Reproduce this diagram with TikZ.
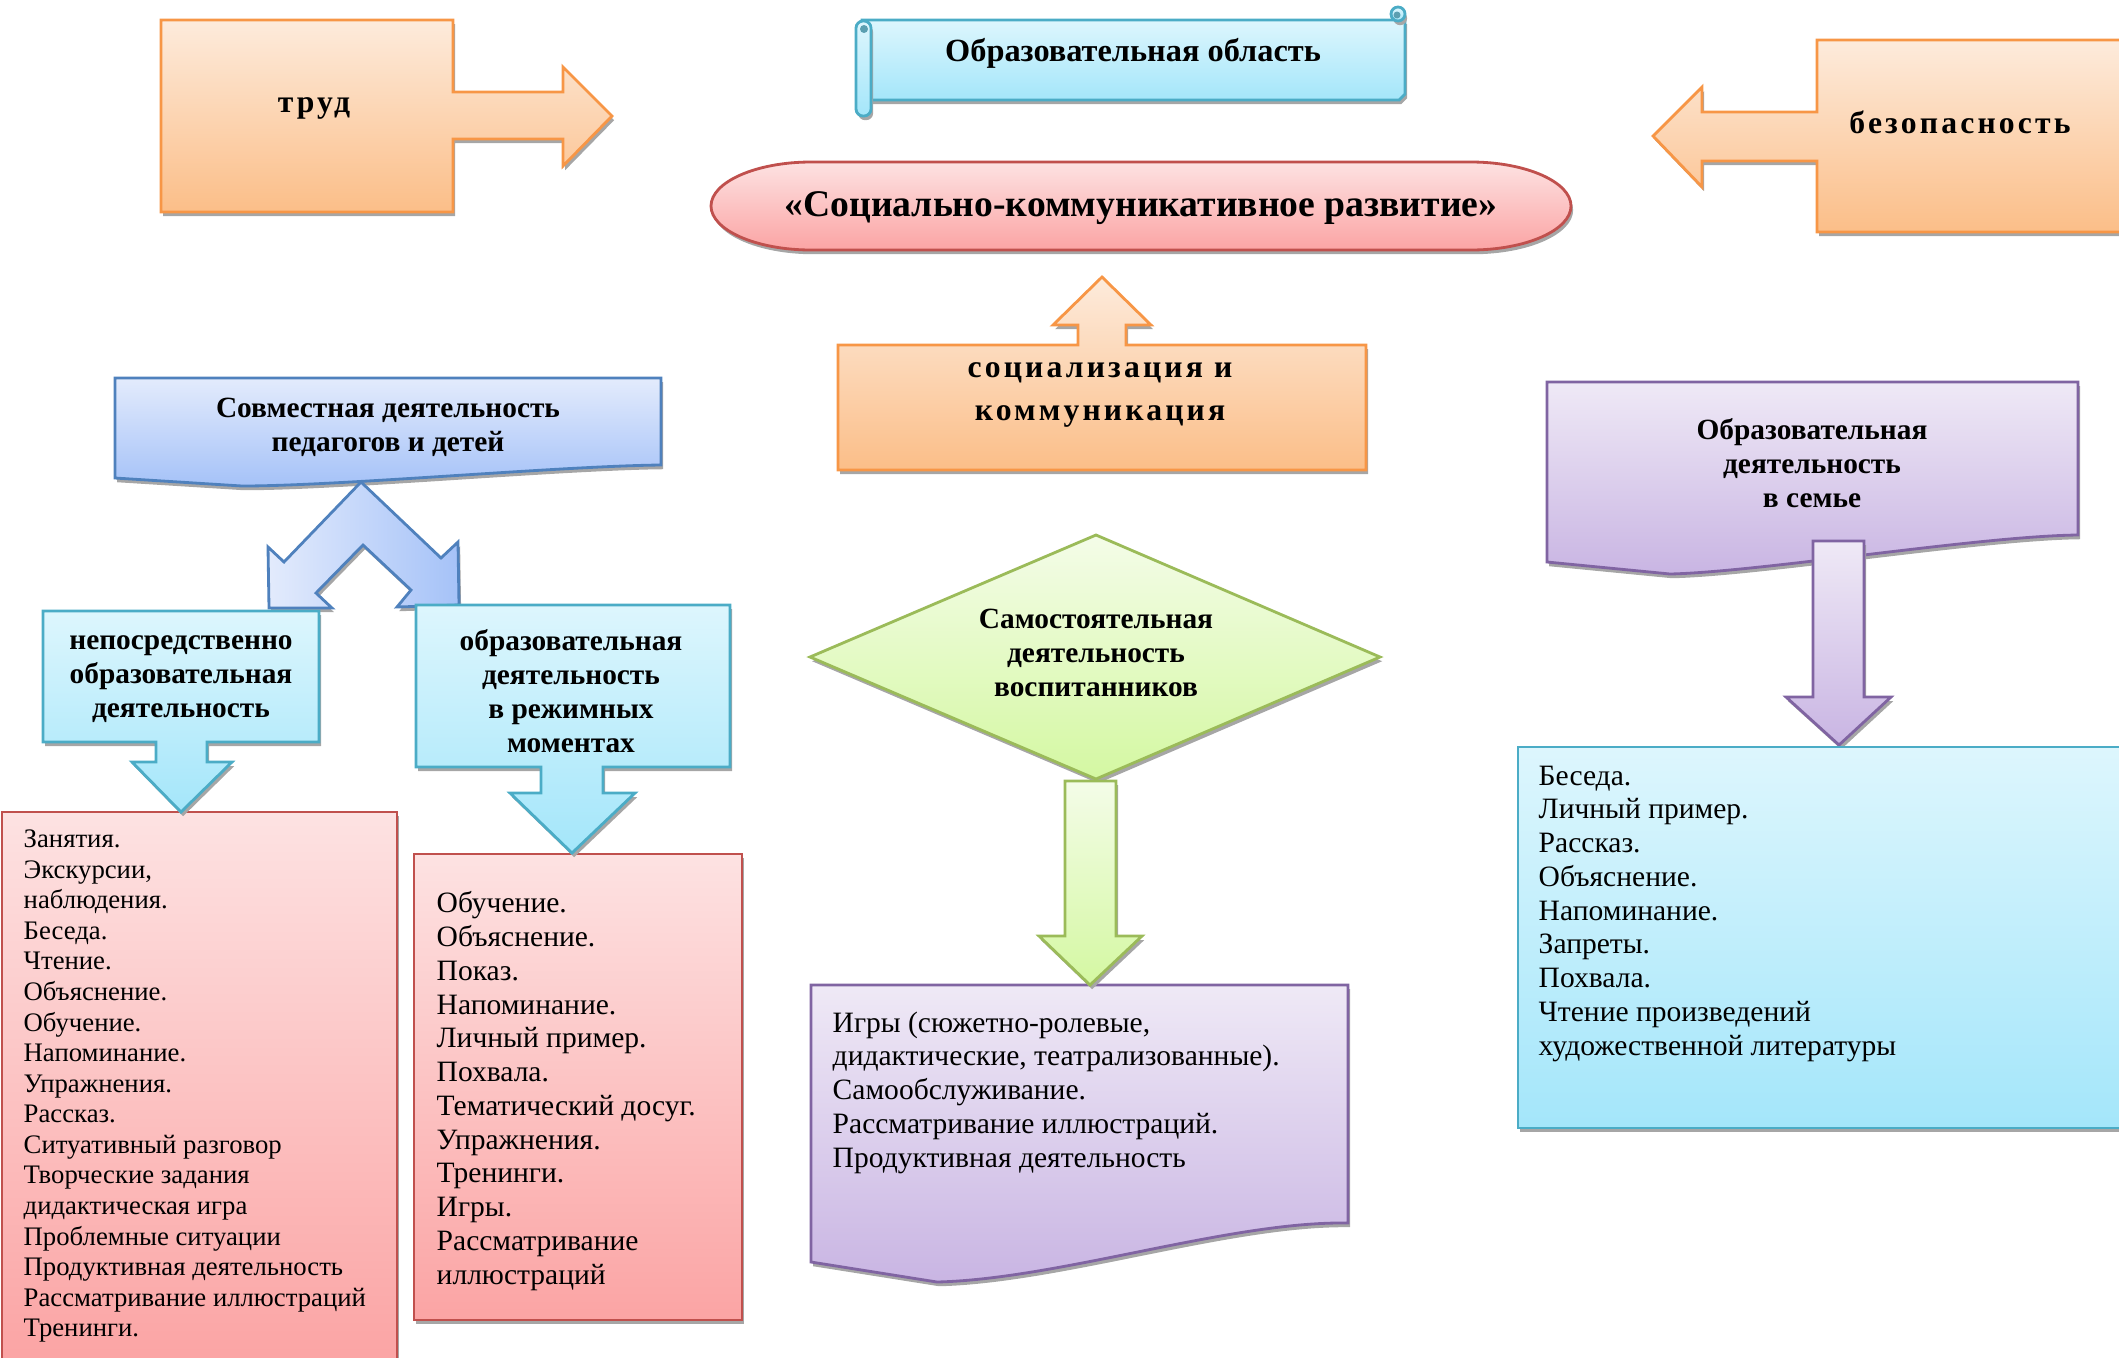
\documentclass[tikz,border=0pt]{standalone}
\usepackage{fontspec}
\setmainfont{Liberation Serif}
\usepackage{tikz}
\usetikzlibrary{shadows}
\definecolor{orline}{HTML}{F79646}
\definecolor{ortop}{HTML}{FDEBDC}
\definecolor{orbot}{HTML}{FBBE88}
\definecolor{cyline}{HTML}{4BACC6}
\definecolor{cytop}{HTML}{DDF6FD}
\definecolor{cybot}{HTML}{A4E6FA}
\definecolor{pkline}{HTML}{C0504D}
\definecolor{pktop}{HTML}{FDE2E2}
\definecolor{pkbot}{HTML}{FBA4A4}
\definecolor{liline}{HTML}{8064A2}
\definecolor{litop}{HTML}{EFE9F6}
\definecolor{libot}{HTML}{C9B5E3}
\definecolor{grline}{HTML}{9BBB59}
\definecolor{grtop}{HTML}{F4FCE8}
\definecolor{grbot}{HTML}{D4F8A2}
\definecolor{blline}{HTML}{4F81BD}
\definecolor{bltop}{HTML}{E3EBFC}
\definecolor{blbot}{HTML}{A5C2F8}

\begin{document}
\begin{tikzpicture}[x=0.01cm, y=-0.01cm,
  blkbase/.style={line width=0.8pt, line join=miter,
    drop shadow={shadow xshift=0.6pt, shadow yshift=-1.2pt, fill=black!35, opacity=1}},
  orangeblk/.style={blkbase, draw=orline, top color=ortop, bottom color=orbot},
  cyanblk/.style={blkbase, draw=cyline, top color=cytop, bottom color=cybot},
  pinkblk/.style={blkbase, draw=pkline, top color=pktop, bottom color=pkbot},
  lilacblk/.style={blkbase, draw=liline, top color=litop, bottom color=libot},
  greenblk/.style={blkbase, draw=grline, top color=grtop, bottom color=grbot},
  blueblk/.style={blkbase, draw=blline, top color=bltop, bottom color=blbot},
  heading/.style={font=\bfseries\fontsize{8.35}{9.7}\selectfont, align=center, inner sep=0pt},
  spaced/.style={font=\bfseries\fontsize{9}{12.2}\selectfont\addfontfeature{LetterSpace=10}, align=center, inner sep=0pt},
  items/.style={font=\fontsize{8.4}{9.6}\selectfont, align=left, anchor=north west, inner sep=0pt}]

  \useasboundingbox (0,0) rectangle (2119,1357);

  % top row
  \path[orangeblk] (161,20) -- (453,20) -- (453,92) -- (563,92) -- (563,67) -- (612,116)
    -- (563,166) -- (563,139) -- (453,139) -- (453,212) -- (161,212) -- cycle;
  \node[spaced] (trud) at (314,108) {труд};

  \path[orangeblk] (2124,40) -- (1817,40) -- (1817,112) -- (1702,112) -- (1702,87) -- (1653,136)
    -- (1702,187) -- (1702,161) -- (1817,161) -- (1817,232) -- (2124,232) -- cycle;
  \node[spaced] (bezop) at (1960,122) {безопасность};

  \path[cyanblk] (862,20) -- (1405,20) -- (1405,94) -- (1399,100) -- (862,100) -- cycle;
  \path[cyanblk] (1398,14) circle (7);
  \fill[cyline!70!gray] (1397,15) circle (3.5);
  \path[cyanblk, rounded corners=2pt] (856,21) rectangle (871,116);
  \fill[cyline!70!gray] (864,29) circle (4);
  \node[heading, font=\bfseries\fontsize{9.2}{10}\selectfont] (oblast) at (1133,53) {Образовательная область};

  \path[pinkblk] (811,162) -- (1471,162) .. controls (1526,162) and (1571,182) .. (1571,206)
    .. controls (1571,230) and (1526,250) .. (1471,250) -- (811,250)
    .. controls (756,250) and (711,230) .. (711,206) .. controls (711,182) and (756,162) .. (811,162) -- cycle;
  \node[heading, font=\bfseries\fontsize{10.7}{12}\selectfont] (razvitie) at (1141,208)
    {«Социально-коммуникативное развитие»};

  \path[orangeblk] (838,345) -- (1078,345) -- (1078,325) -- (1053,325) -- (1102,277) -- (1151,325)
    -- (1126,325) -- (1126,345) -- (1366,345) -- (1366,470) -- (838,470) -- cycle;
  \node[spaced] (socium) at (1100,395) {социализация и\\коммуникация};

  % left branch
  \path[blueblk] (115,378) -- (661,378) -- (661,465) .. controls (560,466) and (340,486) .. (242,486)
    -- (115,478) -- cycle;
  \node[heading] (sovm) at (388,427) {Совместная деятельность\\педагогов  и детей};
  \path[blkbase, draw=blline, left color=bltop, right color=blbot]
    (361,482) -- (441,558) -- (458,542) -- (459,605) -- (397,607) -- (411,590) -- (363,545)
    -- (316,593) -- (332,608) -- (269,608) -- (268,547) -- (284,562) -- cycle;

  \path[pinkblk] (2,812) rectangle (397,1362);
  \path[pinkblk] (414,854) rectangle (742,1320);

  \path[cyanblk] (43,611) -- (319,611) -- (319,742) -- (207,742) -- (207,762) -- (232,762) -- (181,812)
    -- (132,762) -- (156,762) -- (156,742) -- (43,742) -- cycle;
  \node[heading] (nod) at (181,679) {непосредственно\\образовательная\\деятельность};

  \path[cyanblk] (416,605) -- (730,605) -- (730,767) -- (603,767) -- (603,793) -- (635,793) -- (572,853)
    -- (510,793) -- (541,793) -- (541,767) -- (416,767) -- cycle;
  \node[heading] (rezhim) at (571,691) {образовательная\\деятельность\\в режимных\\моментах};

  \node[items, font=\fontsize{7.6}{8.7}\selectfont] (nodlist) at (23,829) {Занятия.\\Экскурсии,\\наблюдения.\\Беседа.\\Чтение.\\Объяснение.\\Обучение.\\Напоминание.\\Упражнения.\\Рассказ.\\Ситуативный разговор\\Творческие задания\\дидактическая игра\\Проблемные ситуации\\Продуктивная деятельность\\Рассматривание иллюстраций\\Тренинги.};
  \node[items] (rezhimlist) at (436,891) {Обучение.\\Объяснение.\\Показ.\\Напоминание.\\Личный пример.\\Похвала.\\Тематический досуг.\\Упражнения.\\Тренинги.\\Игры.\\Рассматривание\\иллюстраций};

  % middle branch
  \path[greenblk] (810,657) -- (1096,535) -- (1380,657) -- (1096,779) -- cycle;
  \node[heading] (samost) at (1096,653) {Самостоятельная\\деятельность\\воспитанников};
  \path[lilacblk] (811,985) -- (1348,985) -- (1348,1223) .. controls (1230,1221) and (1060,1279) .. (937,1282)
    -- (811,1262) -- cycle;
  \path[greenblk] (1065,781) -- (1116,781) -- (1116,936) -- (1142,936) -- (1090,985) -- (1039,936)
    -- (1065,936) -- cycle;
  \node[items] (samostlist) at (832,1011) {Игры (сюжетно-ролевые,\\дидактические, театрализованные).\\Самообслуживание.\\Рассматривание иллюстраций.\\Продуктивная деятельность};

  % right branch
  \path[lilacblk] (1547,382) -- (2078,382) -- (2078,535) .. controls (1980,536) and (1760,572) .. (1670,574)
    -- (1547,562) -- cycle;
  \node[heading] (semya) at (1812,463) {Образовательная\\деятельность\\в семье};
  \path[lilacblk] (1813,541) -- (1864,541) -- (1864,697) -- (1891,697) -- (1839,745) -- (1786,697)
    -- (1813,697) -- cycle;
  \path[cyanblk] (1518,747) rectangle (2124,1128);
  \node[items] (semyalist) at (1538,765) {Беседа.\\Личный пример.\\Рассказ.\\Объяснение.\\Напоминание.\\Запреты.\\Похвала.\\Чтение произведений\\художественной литературы};

\end{tikzpicture}
\end{document}
